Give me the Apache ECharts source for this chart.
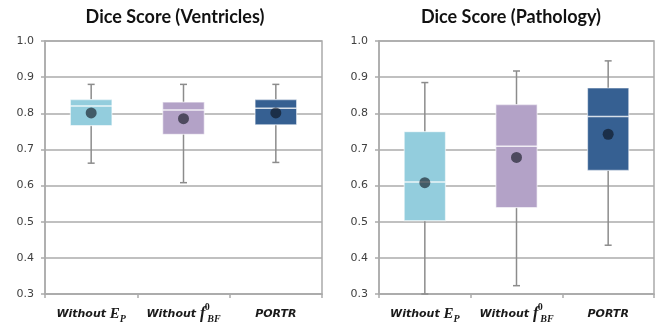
<!DOCTYPE html>
<html><head><meta charset="utf-8">
<script src="https://cdn.jsdelivr.net/npm/echarts@6/dist/echarts.min.js"></script>
<style>html,body{margin:0;padding:0;background:#fff}#c{width:659px;height:325px}</style>
</head><body><div id="c"></div>
<script>
const categories = ['Without E_P', 'Without f_BF^0', 'PORTR'];
const categoryLabels = ['{w|Without }{e|E}{sub|P}', '{w|Without }{f|f}{sup|0}{sub|BF}', '{w|PORTR}'];
const boxColors = ['#93CDDD', '#B3A2C7', '#366092'];

const ventMin  = [0.662, 0.608, 0.664];
const ventQ1   = [0.766, 0.742, 0.768];
const ventMed  = [0.820, 0.809, 0.814];
const ventQ3   = [0.838, 0.831, 0.838];
const ventMax  = [0.880, 0.880, 0.880];
const ventMean = [0.801, 0.785, 0.801];

const pathMin  = [0.300, 0.323, 0.435];
const pathQ1   = [0.503, 0.539, 0.642];
const pathMed  = [0.610, 0.709, 0.791];
const pathQ3   = [0.749, 0.824, 0.870];
const pathMax  = [0.885, 0.917, 0.945];
const pathMean = [0.608, 0.678, 0.742];

const yMin = 0.3, yMax = 1.0, yStep = 0.1;
const titles = ['Dice Score (Ventricles)', 'Dice Score (Pathology)'];

const gridColor = '#ababab';
const whiskerColor = '#8c8c8c';

function boxData(mn, q1, md, q3, mx) {
  return categories.map((c, i) => [i, mn[i], q1[i], md[i], q3[i], mx[i]]);
}

function renderBox(params, api) {
  const i = api.value(0);
  const xc = api.coord([i, api.value(3)])[0];
  const w = api.size([1, 0])[0] * 0.45;
  const yMinP = api.coord([i, api.value(1)])[1];
  const yQ1 = api.coord([i, api.value(2)])[1];
  const yMed = api.coord([i, api.value(3)])[1];
  const yQ3 = api.coord([i, api.value(4)])[1];
  const yMaxP = api.coord([i, api.value(5)])[1];
  const cap = 3.5;
  const ls = { stroke: whiskerColor, lineWidth: 1.5 };
  return {
    type: 'group',
    children: [
      { type: 'line', shape: { x1: xc, y1: yMinP, x2: xc, y2: yQ1 }, style: ls },
      { type: 'line', shape: { x1: xc, y1: yQ3, x2: xc, y2: yMaxP }, style: ls },
      { type: 'line', shape: { x1: xc - cap, y1: yMinP, x2: xc + cap, y2: yMinP }, style: ls },
      { type: 'line', shape: { x1: xc - cap, y1: yMaxP, x2: xc + cap, y2: yMaxP }, style: ls },
      { type: 'rect', shape: { x: xc - w / 2, y: yQ3, width: w, height: yQ1 - yQ3 },
        style: { fill: boxColors[i], stroke: 'rgba(255,255,255,0.55)', lineWidth: 1.2 } },
      { type: 'line', shape: { x1: xc - w / 2, y1: yMed, x2: xc + w / 2, y2: yMed },
        style: { stroke: 'rgba(255,255,255,0.8)', lineWidth: 1.5 } }
    ]
  };
}

const labelRich = {
  w: { fontFamily: 'DejaVu Sans', fontWeight: 'bold', fontStyle: 'italic', fontSize: 11, color: '#1a1a1a', lineHeight: 24 },
  e: { fontFamily: 'Liberation Serif', fontWeight: 'bold', fontStyle: 'italic', fontSize: 15, color: '#1a1a1a', lineHeight: 24 },
  f: { fontFamily: 'Liberation Serif', fontWeight: 'bold', fontStyle: 'italic', fontSize: 16, color: '#1a1a1a', lineHeight: 24 },
  sup: { fontFamily: 'Liberation Serif', fontWeight: 'bold', fontSize: 10, color: '#1a1a1a', verticalAlign: 'top', width: 0, padding: [0, 0, 0, 2] },
  sub: { fontFamily: 'Liberation Serif', fontWeight: 'bold', fontStyle: 'italic', fontSize: 10, color: '#1a1a1a', verticalAlign: 'bottom', padding: [0, 0, 2, 0] }
};

const grids = [
  { left: 45, right: 337, top: 41, bottom: 31 },
  { left: 379, right: 5, top: 41, bottom: 31 }
];

const option = {
  animation: false,
  title: [
    { text: titles[0], left: 170, top: 3, textAlign: 'center',
      textStyle: { fontFamily: 'Lato', fontWeight: 'bold', fontSize: 18, color: '#111' } },
    { text: titles[1], left: 506, top: 3, textAlign: 'center',
      textStyle: { fontFamily: 'Lato', fontWeight: 'bold', fontSize: 18, color: '#111' } }
  ],
  grid: grids.map(g => Object.assign({ show: true, borderColor: gridColor, borderWidth: 1.5, backgroundColor: 'transparent' }, g)),
  xAxis: [0, 1].map(k => ({
    type: 'category', gridIndex: k, data: categories, boundaryGap: true,
    axisLine: { lineStyle: { color: gridColor, width: 1.5 } },
    axisTick: { show: true, length: 4, interval: 0, lineStyle: { color: gridColor, width: 1.5 } },
    axisLabel: { margin: 8, interval: 0, hideOverlap: false, formatter: (v, i) => categoryLabels[i], rich: labelRich }
  })),
  yAxis: [0, 1].map(k => ({
    type: 'value', gridIndex: k, min: yMin, max: yMax, interval: yStep,
    axisLine: { show: true, lineStyle: { color: gridColor, width: 1.5 } },
    axisTick: { show: true, length: 4, lineStyle: { color: gridColor, width: 1.5 } },
    splitLine: { lineStyle: { color: gridColor, width: 1.5 } },
    axisLabel: { margin: 11, fontFamily: 'DejaVu Sans', fontSize: 11, color: '#404040',
      formatter: v => v.toFixed(1) }
  })),
  series: [
    { type: 'custom', xAxisIndex: 0, yAxisIndex: 0, renderItem: renderBox,
      encode: { x: 0, y: [1, 2, 3, 4, 5] }, data: boxData(ventMin, ventQ1, ventMed, ventQ3, ventMax), z: 2 },
    { type: 'custom', xAxisIndex: 1, yAxisIndex: 1, renderItem: renderBox,
      encode: { x: 0, y: [1, 2, 3, 4, 5] }, data: boxData(pathMin, pathQ1, pathMed, pathQ3, pathMax), z: 2 },
    { type: 'scatter', xAxisIndex: 0, yAxisIndex: 0, symbolSize: 11, z: 3,
      itemStyle: { color: 'rgba(10,15,25,0.75)' }, data: ventMean.map((v, i) => [i, v]) },
    { type: 'scatter', xAxisIndex: 1, yAxisIndex: 1, symbolSize: 11, z: 3,
      itemStyle: { color: 'rgba(10,15,25,0.75)' }, data: pathMean.map((v, i) => [i, v]) }
  ]
};

const chart = echarts.init(document.getElementById('c'), null, { renderer: 'canvas' });
chart.setOption(option);
</script></body></html>
